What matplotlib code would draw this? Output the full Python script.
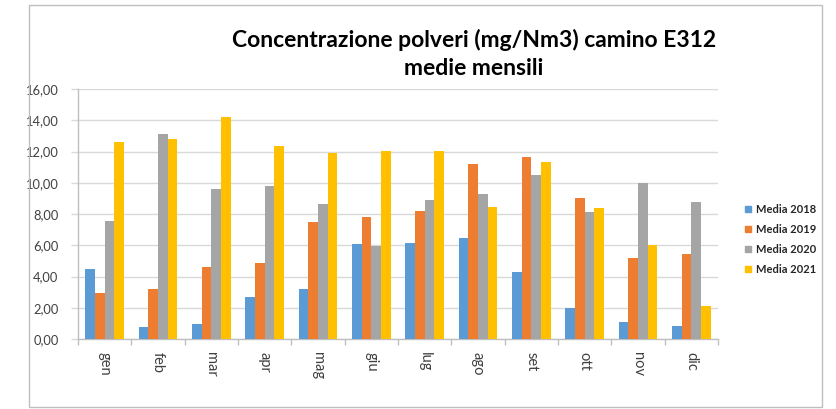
import matplotlib
matplotlib.use("Agg")
import matplotlib.pyplot as plt
from matplotlib.patches import Rectangle
from matplotlib.ticker import FuncFormatter, MultipleLocator, FixedLocator
import numpy as np

months = ["gen", "feb", "mar", "apr", "mag", "giu", "lug", "ago", "set", "ott", "nov", "dic"]
series_names = ["Media 2018", "Media 2019", "Media 2020", "Media 2021"]
media_2018 = [4.51, 0.77, 0.94, 2.67, 3.17, 6.05, 6.14, 6.48, 4.30, 1.97, 1.11, 0.86]
media_2019 = [2.93, 3.17, 4.60, 4.88, 7.51, 7.81, 8.21, 11.19, 11.68, 9.03, 5.16, 5.43]
media_2020 = [7.53, 13.11, 9.63, 9.80, 8.64, 5.93, 8.90, 9.26, 10.48, 8.15, 9.97, 8.75]
media_2021 = [12.62, 12.77, 14.22, 12.34, 11.91, 12.06, 12.04, 8.45, 11.32, 8.39, 6.01, 2.10]
colors = ["#5B9BD5", "#ED7D31", "#A5A5A5", "#FFC000"]

title_line1 = "Concentrazione polveri (mg/Nm3) camino E312"
title_line2 = "medie mensili"

FONT = "Lato"
W, H = 837, 409
fig = plt.figure(figsize=(W / 100, H / 100), dpi=100)
fig.patch.set_facecolor("white")

# outer chart border
fig.patches.append(Rectangle((29.5 / W, 1 - 407 / H), (822 - 29.5) / W, (407 - 5) / H,
                             transform=fig.transFigure, fill=False,
                             edgecolor="#BFBFBF", linewidth=1.0))

ax = fig.add_axes([78 / W, 1 - 339 / H, (718 - 78) / W, (339 - 89) / H])

x = np.arange(len(months))
bw = 0.18
all_series = [media_2018, media_2019, media_2020, media_2021]
for i, (vals, name, c) in enumerate(zip(all_series, series_names, colors)):
    ax.bar(x + (i - 1.5) * bw, vals, width=bw, color=c, label=name, zorder=3)

ax.set_xlim(-0.5, len(months) - 0.5)
ax.set_ylim(0, 16)
ax.yaxis.set_major_locator(MultipleLocator(2))
ax.yaxis.set_major_formatter(FuncFormatter(lambda v, p: f"{v:.2f}".replace(".", ",")))
ax.grid(axis="y", color="#D9D9D9", linewidth=1.0, zorder=0)

for s in ["top", "right"]:
    ax.spines[s].set_visible(False)
for s in ["left", "bottom"]:
    ax.spines[s].set_color("#BFBFBF")
    ax.spines[s].set_linewidth(1.0)

ax.set_xticks(x)
ax.set_xticklabels(months, rotation=-90, fontfamily=FONT, fontsize=10.5, color="#404040")
ax.tick_params(axis="x", which="major", length=0, pad=9)
ax.xaxis.set_minor_locator(FixedLocator(np.arange(-0.5, len(months), 1.0)))
ax.tick_params(axis="x", which="minor", length=4, color="#BFBFBF", width=1.0)
ax.tick_params(axis="y", length=5, color="#D9D9D9", width=1.0, pad=9,
               labelcolor="#404040", labelsize=9.3)
for lab in ax.get_yticklabels():
    lab.set_fontfamily(FONT)

fig.text(474 / W, 1 - 47 / H, title_line1, ha="center", va="baseline",
         fontfamily=FONT, fontweight="bold", fontsize=16.5, color="black")
fig.text(474 / W, 1 - 75 / H, title_line2, ha="center", va="baseline",
         fontfamily=FONT, fontweight="bold", fontsize=16.5, color="black")

handles = [Rectangle((0, 0), 1, 1, color=c) for c in colors]
fig.legend(handles, series_names, loc="upper left",
           bbox_to_anchor=(745 / W, 1 - 204 / H), frameon=False,
           prop={"family": FONT, "weight": "bold", "size": 8},
           handlelength=0.5, handleheight=0.5, handletextpad=0.5,
           labelspacing=0.8, borderpad=0, borderaxespad=0, labelcolor="#262626")

fig.savefig("out.png", dpi=100, facecolor="white")
